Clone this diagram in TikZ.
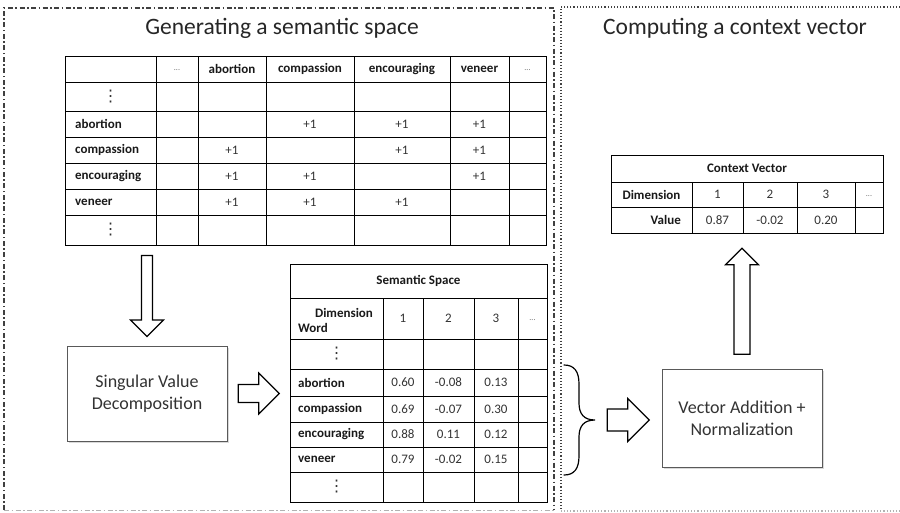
\documentclass[tikz,border=0pt]{standalone}
\usepackage{fontspec}
\setmainfont{Carlito}
\newfontfamily\symfont{DejaVu Sans}
\usetikzlibrary{calc,shadows}

\tikzset{
  leftpanel/.style={line width=1.4pt, black!75, dash pattern=on 5pt off 2.5pt on 1.5pt off 2.5pt},
  rightpanel/.style={line width=1.1pt, black!75, dotted},
  title/.style={font=\fontsize{23.5}{26}\selectfont, text=black!85},
  frame/.style={draw, line width=1pt, inner sep=0pt},
  grid/.style={line width=1pt},
  cell/.style={inner sep=0pt, font=\fontsize{13}{15}\selectfont, text=black!80},
  hd/.style={cell, font=\fontsize{13}{15}\selectfont\bfseries, text=black!90},
  vdot/.style={inner sep=0pt, font=\symfont\fontsize{16}{16}\selectfont, text=black!80},
  more/.style={inner sep=0pt, font=\fontsize{8}{8}\selectfont, text=black!60},
  procbox/.style={draw=black!65, line width=1pt, fill=white, align=center,
    font=\fontsize{18}{22}\selectfont, text=black!80,
    drop shadow={shadow xshift=1.5pt, shadow yshift=-1.5pt, opacity=0.3}},
  arrowline/.style={draw, line width=1.1pt, fill=white, line join=miter}
}

% hollow block arrow: centre, angle, length, shaft width, head width
\newcommand{\hollowarrow}[5]{%
  \draw[arrowline, shift={#1}, rotate=#2]
    ({-#3/2},{-#4/2}) -- ({#3/2-#5/2},{-#4/2}) -- ({#3/2-#5/2},{-#5/2})
    -- ({#3/2},0) -- ({#3/2-#5/2},{#5/2}) -- ({#3/2-#5/2},{#4/2})
    -- ({-#3/2},{#4/2}) -- cycle;}

\begin{document}
\begin{tikzpicture}[x=1pt, y=-1pt]
  \useasboundingbox (0,0) rectangle (900,512);

  % panels
  \draw[leftpanel] (4,510) -- (4,8) -- (554,8) -- (554,510);
  \draw[leftpanel, black!30] (4,510.5) -- (554,510.5);
  \draw[rightpanel] (900,7) -- (561,7) -- (561,511);
  \draw[rightpanel, black!30] (561,511) -- (900,511);

  \node[title] (lefttitle) at (282,28) {Generating a semantic space};
  \node[title] (righttitle) at (735,28) {Computing a context vector};

  % co-occurrence table
  \node[frame, minimum width=481pt, minimum height=189pt, anchor=north west] (cooc) at (65,56) {};
  \foreach \x in {156,198,266,354,450,509}
    \draw[grid] (\x,56) -- (\x,245);
  \foreach \y in {82,111,137,163,189,215}
    \draw[grid] (65,\y) -- (546,\y);
  \foreach \w/\x [count=\i] in {abortion/232,compassion/310,encouraging/402,veneer/479.5}
    \node[hd] (h\i) at (\x,69) {\w};
  \node[more] (hm1) at (177,70) {...};
  \node[more] (hm2) at (527.5,70) {...};
  \foreach \w/\y [count=\i] in {abortion/124,compassion/150,encouraging/176,veneer/202}
    \node[hd, anchor=west] (r\i) at (75,\y) {\w};
  \node[vdot] (rv1) at (110.5,96.5) {⋮};
  \node[vdot] (rv2) at (110.5,230) {⋮};
  \foreach \x/\y [count=\i] in {310/124,402/124,479.5/124,232/150,402/150,479.5/150,
      232/176,310/176,479.5/176,232/202,310/202,402/202}
    \node[cell] (p\i) at (\x,\y) {+1};

  % SVD
  \node[procbox, minimum width=160pt, minimum height=95pt] (svd) at (147,393.5) {Singular Value\\Decomposition};
  \hollowarrow{($(svd.north)+(0,-49.5)$)}{-90}{81}{11}{33}

  % semantic space table
  \node[frame, minimum width=257pt, minimum height=238pt, anchor=north west] (sem) at (290,264) {};
  \foreach \x in {383,423,474,518}
    \draw[grid] (\x,298) -- (\x,502);
  \foreach \y in {298,339,369,396,422,447,472}
    \draw[grid] (290,\y) -- (547,\y);
  \node[hd] (semtitle) at (418.5,281) {Semantic Space};
  \node[hd] (semdim) at (344,313) {Dimension};
  \node[hd, anchor=west] (semword) at (298,328) {Word};
  \foreach \w/\x [count=\i] in {1/403,2/448.5,3/496}
    \node[cell] (sc\i) at (\x,318.5) {\w};
  \node[more] (scm) at (532.5,320) {...};
  \node[vdot] (sv1) at (336.5,354) {⋮};
  \node[vdot] (sv2) at (336.5,487) {⋮};
  \foreach \w/\a/\b/\c/\y [count=\i] in {abortion/0.60/-0.08/0.13/382.5,
      compassion/0.69/-0.07/0.30/409,encouraging/0.88/0.11/0.12/434.5,
      veneer/0.79/-0.02/0.15/459.5} {
    \node[hd, anchor=west] (sr\i) at (298,\y) {\w};
    \node[cell] (sa\i) at (403,\y) {\a};
    \node[cell] (sb\i) at (448.5,\y) {\b};
    \node[cell] (sd\i) at (496,\y) {\c};
  }
  \hollowarrow{($(svd.east)!0.5!(svd.east -| sem.west)$)}{0}{41}{18}{41}

  % brace over the word rows
  \coordinate (bt) at (564,365);
  \coordinate (bb) at (564,475);
  \coordinate (btip) at (595,420);
  \draw[line width=1.2pt, line cap=round]
    (bt) .. controls (574,365) and (579,371) .. (579,384) -- (579,403)
    .. controls (579,414) and (584,420) .. (btip)
    .. controls (584,420) and (579,426) .. (579,437) -- (579,456)
    .. controls (579,469) and (574,475) .. (bb);

  % vector addition
  \node[procbox, minimum width=160pt, minimum height=98pt] (vec) at (742,418) {Vector Addition +\\Normalization};
  \hollowarrow{($(btip)!0.5!(btip -| vec.west)$)}{0}{42}{22}{43}

  % context vector table
  \node[frame, minimum width=272pt, minimum height=78pt, anchor=north west] (ctx) at (611,155) {};
  \foreach \x in {692,743,797,855}
    \draw[grid] (\x,182) -- (\x,233);
  \foreach \y in {182,207}
    \draw[grid] (611,\y) -- (883,\y);
  \node[hd] (ctxtitle) at (747,168.5) {Context Vector};
  \node[hd] (ctxdim) at (651.5,194.5) {Dimension};
  \node[hd, anchor=east] (ctxval) at (681,220) {Value};
  \foreach \w/\v/\x [count=\i] in {1/0.87/717.5,2/-0.02/770,3/0.20/826} {
    \node[cell] (cd\i) at (\x,194.5) {\w};
    \node[cell] (cv\i) at (\x,220) {\v};
  }
  \node[more] (cdm) at (869,196) {...};
  \hollowarrow{($(vec.north)!0.5!(vec.north |- ctx.south)$)}{90}{106}{16}{33}
\end{tikzpicture}
\end{document}
